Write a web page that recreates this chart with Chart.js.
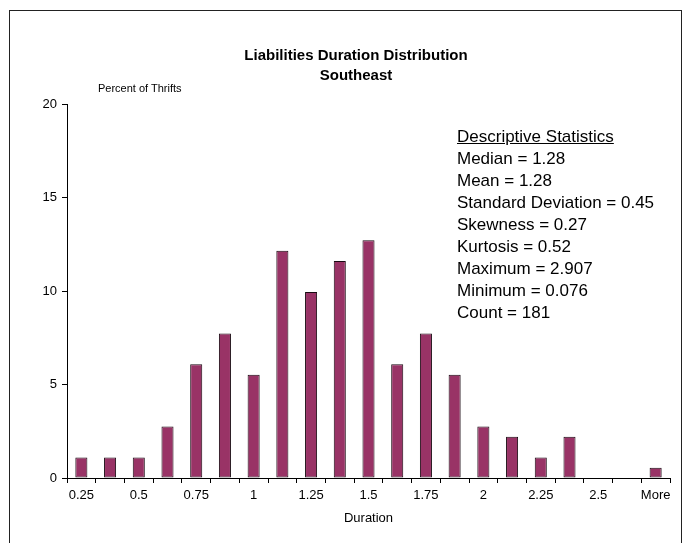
<!DOCTYPE html>
<html>
<head>
<meta charset="utf-8">
<script src="https://cdn.jsdelivr.net/npm/chart.js@4/dist/chart.umd.min.js"></script>
<style>
  body { margin: 0; background: #fff; }
  #wrap { position: relative; width: 687px; height: 543px; font-family: "Liberation Sans", Arial, sans-serif; }
  #frame { position: absolute; left: 9px; top: 10px; width: 673px; height: 540px; border: 1px solid #222; box-sizing: border-box; pointer-events: none; }
  #title { position: absolute; left: 0; top: 45px; width: 712px; text-align: center; font-size: 15px; font-weight: bold; line-height: 20px; color: #000; }
  #ylabel { position: absolute; left: 98px; top: 82px; font-size: 11px; color: #000; }
  #stats { position: absolute; left: 457px; top: 126px; font-size: 17px; line-height: 22px; color: #000; }
  #stats .head { text-decoration: underline; }
</style>
</head>
<body>
<div id="wrap">
  <canvas id="chart" width="687" height="543"></canvas>
  <div id="frame"></div>
  <div id="title">Liabilities Duration Distribution<br>Southeast</div>
  <div id="ylabel">Percent of Thrifts</div>
  <div id="stats">
    <div class="head">Descriptive Statistics</div>
    <div>Median = 1.28</div>
    <div>Mean = 1.28</div>
    <div>Standard Deviation = 0.45</div>
    <div>Skewness = 0.27</div>
    <div>Kurtosis = 0.52</div>
    <div>Maximum = 2.907</div>
    <div>Minimum = 0.076</div>
    <div>Count = 181</div>
  </div>
</div>
<script>
// bins of 0.125, every other one labelled
const categories = ["0.25", "0.375", "0.5", "0.625", "0.75", "0.875", "1", "1.125", "1.25", "1.375",
  "1.5", "1.625", "1.75", "1.875", "2", "2.125", "2.25", "2.375", "2.5", "2.625", "More"];
// percent of thrifts (out of 181)
const percents = [1.1, 1.1, 1.1, 2.76, 6.08, 7.73, 5.52, 12.15, 9.94, 11.6,
  12.71, 6.08, 7.73, 5.52, 2.76, 2.21, 1.1, 2.21, 0, 0, 0.55];
const yTicks = [0, 5, 10, 15, 20];

const font = "'Liberation Sans', Arial, sans-serif";

new Chart(document.getElementById("chart").getContext("2d"), {
  type: "bar",
  data: {
    labels: categories,
    datasets: [
      {
        label: "Percent of Thrifts",
        data: percents,
        backgroundColor: "#993366",
        borderColor: "#1a0a12",
        borderWidth: 1,
        borderSkipped: false,
        categoryPercentage: 1,
        barPercentage: 0.42,
      },
    ],
  },
  options: {
    responsive: false,
    animation: false,
    layout: { padding: { left: 0, right: 17, top: 104, bottom: 15 } },
    plugins: {
      legend: { display: false },
      tooltip: { enabled: false },
      title: { display: false },
    },
    scales: {
      x: {
        afterFit: (axis) => { axis.height = 50; },
        grid: { display: true, drawOnChartArea: false, tickLength: 5, color: "#000", offset: true },
        border: { color: "#000" },
        ticks: {
          autoSkip: false,
          maxRotation: 0,
          padding: 5,
          color: "#000",
          font: { family: font, size: 13 },
          callback: (val, i) => (i % 2 === 0 ? categories[i] : ""),
        },
        title: {
          display: true,
          text: "Duration",
          color: "#000",
          font: { family: font, size: 13 },
          padding: { top: 0, bottom: 2 },
        },
      },
      y: {
        min: 0,
        max: 20,
        afterFit: (axis) => { axis.width = 67; },
        afterBuildTicks: (axis) => { axis.ticks = yTicks.map((v) => ({ value: v })); },
        grid: { display: true, drawOnChartArea: false, tickLength: 5, color: "#000" },
        border: { color: "#000" },
        ticks: { padding: 5, color: "#000", font: { family: font, size: 13 } },
      },
    },
  },
});
</script>
</body>
</html>
